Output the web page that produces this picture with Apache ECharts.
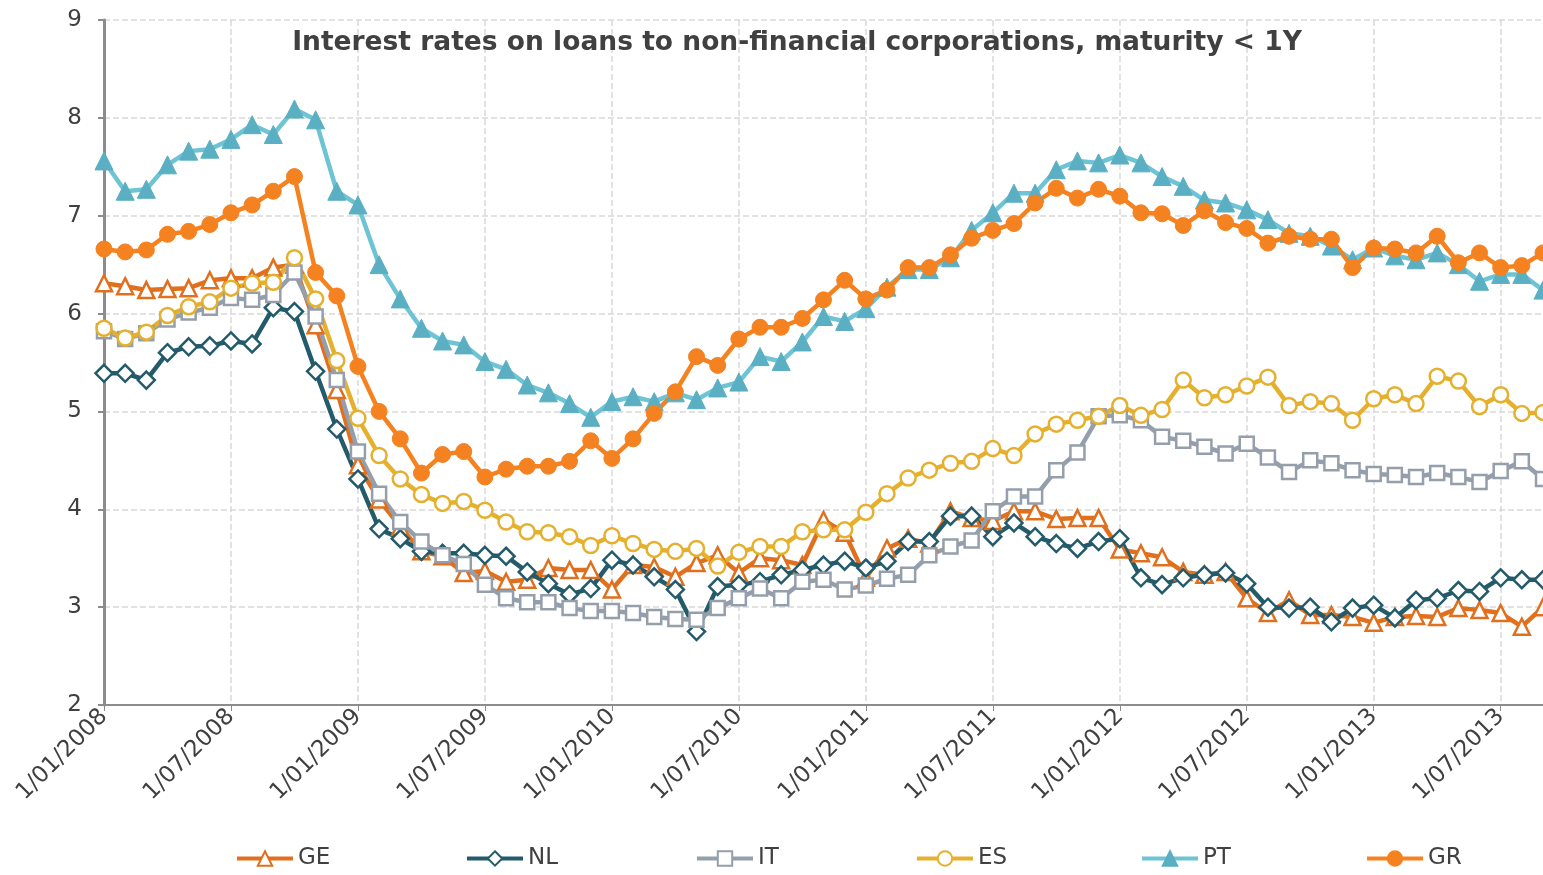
<!DOCTYPE html>
<html>
<head>
<meta charset="utf-8">
<script src="https://cdn.jsdelivr.net/npm/echarts@6/dist/echarts.min.js"></script>
<style>
  html, body { margin: 0; padding: 0; background: #fff; }
  #main { width: 1543px; height: 875px; }
</style>
</head>
<body>
<div id="main"></div>
<script type="text/javascript">
    // months from 1/01/2008 to 1/09/2013
    var months = [];
    for (var y = 2008; y <= 2013; y++) {
        for (var m = 1; m <= 12; m++) {
            if (y === 2013 && m > 9) break;
            months.push('1/' + (m < 10 ? '0' + m : m) + '/' + y);
        }
    }

    var seriesNames = ['GE', 'NL', 'IT', 'ES', 'PT', 'GR'];
    var legendLeft = [230, 460, 690, 910, 1135, 1360];

    var ge = [6.31, 6.28, 6.24, 6.25, 6.26, 6.34, 6.36, 6.36, 6.47, 6.50, 5.88, 5.22,
        4.45, 4.10, 3.82, 3.57, 3.52, 3.35, 3.37, 3.26, 3.28, 3.40, 3.38, 3.38,
        3.18, 3.43, 3.41, 3.31, 3.45, 3.53, 3.35, 3.50, 3.48, 3.43, 3.89,
        3.76, 3.30, 3.60, 3.70, 3.65, 3.98, 3.91, 3.88, 3.98, 3.98, 3.90, 3.91,
        3.91, 3.59, 3.55, 3.51, 3.36, 3.33, 3.36, 3.09, 2.94, 3.07, 2.92,
        2.92, 2.90, 2.84, 2.90, 2.91, 2.90, 2.99, 2.97, 2.94, 2.80, 3.00];

    var nl = [5.39, 5.39, 5.32, 5.60, 5.66, 5.67, 5.72, 5.69, 6.06, 6.02, 5.41, 4.82,
        4.31, 3.80, 3.70, 3.57, 3.55, 3.55, 3.53, 3.52, 3.36, 3.24, 3.13, 3.19,
        3.48, 3.43, 3.31, 3.18, 2.75, 3.21, 3.23, 3.26, 3.33, 3.38, 3.43,
        3.47, 3.40, 3.47, 3.67, 3.67, 3.93, 3.93, 3.72, 3.86, 3.72, 3.65, 3.60,
        3.67, 3.70, 3.30, 3.23, 3.30, 3.33, 3.35, 3.24, 3.00, 2.99, 3.00,
        2.85, 2.99, 3.02, 2.89, 3.07, 3.09, 3.17, 3.16, 3.30, 3.28, 3.28];

    var it = [5.82, 5.74, 5.80, 5.94, 6.01, 6.06, 6.16, 6.14, 6.19, 6.42, 5.97, 5.32,
        4.59, 4.16, 3.87, 3.67, 3.53, 3.44, 3.23, 3.09, 3.05, 3.05, 2.99, 2.96,
        2.96, 2.94, 2.90, 2.88, 2.87, 2.99, 3.09, 3.19, 3.09, 3.26, 3.28,
        3.18, 3.22, 3.29, 3.33, 3.53, 3.62, 3.68, 3.98, 4.13, 4.13, 4.40, 4.58,
        4.95, 4.96, 4.91, 4.74, 4.70, 4.64, 4.57, 4.67, 4.53, 4.38, 4.50,
        4.47, 4.40, 4.36, 4.35, 4.33, 4.37, 4.33, 4.28, 4.39, 4.49, 4.31];

    var es = [5.85, 5.75, 5.81, 5.98, 6.07, 6.12, 6.26, 6.31, 6.32, 6.57, 6.15, 5.52,
        4.93, 4.55, 4.31, 4.15, 4.06, 4.08, 3.99, 3.87, 3.77, 3.76, 3.72, 3.63,
        3.73, 3.65, 3.59, 3.57, 3.60, 3.42, 3.56, 3.62, 3.62, 3.77, 3.79,
        3.79, 3.97, 4.16, 4.32, 4.40, 4.47, 4.49, 4.62, 4.55, 4.77, 4.87, 4.91,
        4.95, 5.06, 4.96, 5.02, 5.32, 5.14, 5.17, 5.26, 5.35, 5.06, 5.10,
        5.08, 4.91, 5.13, 5.17, 5.08, 5.36, 5.31, 5.05, 5.17, 4.98, 4.99];

    var pt = [7.56, 7.25, 7.27, 7.52, 7.66, 7.68, 7.78, 7.93, 7.83, 8.09, 7.98, 7.25,
        7.11, 6.50, 6.15, 5.85, 5.72, 5.68, 5.51, 5.43, 5.27, 5.19, 5.08, 4.94,
        5.10, 5.15, 5.10, 5.19, 5.12, 5.24, 5.30, 5.56, 5.51, 5.71, 5.97,
        5.92, 6.05, 6.27, 6.45, 6.45, 6.57, 6.85, 7.03, 7.23, 7.23, 7.47, 7.56,
        7.54, 7.62, 7.54, 7.40, 7.30, 7.16, 7.13, 7.06, 6.96, 6.82, 6.79,
        6.69, 6.55, 6.67, 6.59, 6.55, 6.62, 6.50, 6.33, 6.40, 6.40, 6.24];

    var gr = [6.66, 6.63, 6.65, 6.81, 6.84, 6.91, 7.03, 7.11, 7.25, 7.40, 6.42, 6.18,
        5.46, 5.00, 4.72, 4.37, 4.56, 4.59, 4.33, 4.41, 4.44, 4.44, 4.49, 4.70,
        4.52, 4.72, 4.98, 5.20, 5.56, 5.47, 5.74, 5.86, 5.86, 5.95, 6.14,
        6.34, 6.15, 6.24, 6.47, 6.47, 6.60, 6.77, 6.85, 6.92, 7.13, 7.28, 7.18,
        7.27, 7.20, 7.03, 7.02, 6.90, 7.05, 6.93, 6.87, 6.72, 6.79, 6.76,
        6.76, 6.47, 6.67, 6.66, 6.62, 6.79, 6.52, 6.62, 6.47, 6.49, 6.62];

    var fontName = 'DejaVu Sans';

    function lineSeries(name, data, color, symbol, size, filled, markerColor) {
        return {
            name: name,
            type: 'line',
            data: data,
            symbol: symbol,
            symbolSize: size,
            showAllSymbol: true,
            lineStyle: { color: color, width: 4.5 },
            itemStyle: {
                color: filled ? (markerColor || color) : '#ffffff',
                borderColor: markerColor || color,
                borderWidth: filled ? 1 : 2.5
            },
            emphasis: { disabled: true }
        };
    }

    // one legend per item so they can sit at fixed places
    var legends = seriesNames.map(function (n, i) {
        return {
            data: [n],
            left: legendLeft[i],
            bottom: 0,
            itemWidth: 56,
            itemHeight: 18,
            lineStyle: { width: 4 },
            textStyle: { fontFamily: fontName, fontSize: 23, color: '#404040' }
        };
    });

    var myChart = echarts.init(document.getElementById('main'));

    var option = {
        animation: false,
        backgroundColor: '#ffffff',
        title: {
            text: 'Interest rates on loans to non-financial corporations, maturity < 1Y',
            left: 792,
            top: 25,
            textAlign: 'center',
            textStyle: { fontFamily: fontName, fontWeight: 'bold', fontSize: 26.5, color: '#404040' }
        },
        legend: legends,
        grid: { left: 104, right: -3, top: 20, bottom: 170, containLabel: false },
        xAxis: {
            type: 'category',
            data: months,
            boundaryGap: false,
            axisLine: { lineStyle: { color: '#8c8c8c', width: 2 } },
            axisTick: { show: true, interval: 5, length: 6, lineStyle: { color: '#8c8c8c' } },
            axisLabel: {
                interval: 5,
                rotate: 45,
                margin: 8,
                fontFamily: fontName,
                fontSize: 23,
                color: '#404040'
            },
            splitLine: { show: true, interval: 5, lineStyle: { color: '#d9d9d9', type: 'dashed', width: 1.5 } }
        },
        yAxis: {
            type: 'value',
            min: 2,
            max: 9,
            interval: 1,
            axisLine: { show: true, lineStyle: { color: '#8c8c8c', width: 3 } },
            axisTick: { show: true, length: 6, lineStyle: { color: '#8c8c8c', width: 2 } },
            axisLabel: { fontFamily: fontName, fontSize: 23, color: '#404040', margin: 22 },
            splitLine: { show: true, lineStyle: { color: '#d9d9d9', type: 'dashed', width: 1.5 } }
        },
        series: [
            lineSeries('GE', ge, '#e0701e', 'triangle', 16, false),
            lineSeries('NL', nl, '#245b6b', 'diamond', 17, false),
            lineSeries('IT', it, '#959fab', 'rect', 14, false),
            lineSeries('ES', es, '#e5b02e', 'circle', 15, false),
            lineSeries('PT', pt, '#6ec4d5', 'triangle', 18, true, '#5aafc2'),
            lineSeries('GR', gr, '#f58220', 'circle', 16, true)
        ]
    };

    myChart.setOption(option);
</script>
</body>
</html>
